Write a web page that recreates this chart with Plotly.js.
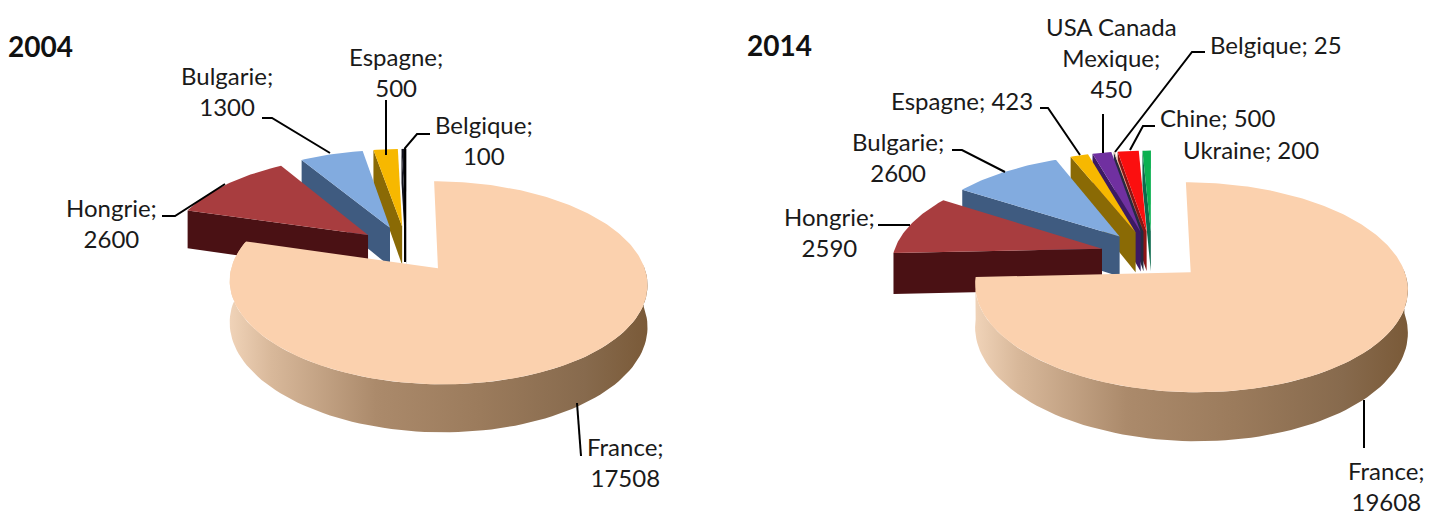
<!DOCTYPE html>
<html><head><meta charset="utf-8">
<script src="https://cdn.plot.ly/plotly-3.0.1.min.js"></script>
<style>html,body{margin:0;padding:0;background:#fff}#c{width:1443px;height:516px}</style>
</head><body><div id="c"></div>
<script>
// DATA
const categories2004 = ["France","Hongrie","Bulgarie","Espagne","Belgique"];
const values2004 = [17508,2600,1300,500,100];
const categories2014 = ["France","Hongrie","Bulgarie","Espagne","USA Canada Mexique","Belgique","Chine","Ukraine"];
const values2014 = [19608,2590,2600,423,450,25,500,200];

// STYLE per category: [top, wall]
const colours = {
  "France":["#fbd1ae",null],
  "Hongrie":["#a83d3f","#4a1114"],
  "Bulgarie":["#82abdf","#3f5b80"],
  "Espagne":["#f7b800","#8a6a05"],
  "USA Canada Mexique":["#7030a0","#3c1a63"],
  "Belgique":["#e8c4a8","#262a40"],
  "Chine":["#fb0f0f","#8c1414"],
  "Ukraine":["#0bb050","#0c6a4c"]
};
const franceWall=[[0,"#f0d3b8"],[0.1,"#d8b89a"],[0.35,"#ab8a6b"],[0.6,"#9b7b5c"],[0.85,"#876a4d"],[1,"#7a5a38"]];
// projection geometry
const geom2004={Ox:407,Oy:249,B:201,A:94,k:0.1386,e:0.25,h:40,over:{"Belgique":["#14141e","#14141e"]}};
const geom2014={Ox:1152,Oy:255,B:209,A:98,k:0.1386,e:0.25,h:41,over:{}};

function traces(cats,vals,g){
  const total=vals.reduce((a,b)=>a+b,0), out=[];
  const P=(u,v,z)=>{const w=1-g.k*v;return [g.Ox+g.B*u/w, g.Oy+g.A*v/w+(z?g.h/w:0)];};
  let t0=0; const slices=[];
  cats.forEach((c,i)=>{const d=vals[i]/total*360; slices.push({c,a:t0,b:t0+d}); t0+=d;});
  const rad=Math.PI/180;
  slices.slice().reverse().forEach(s=>{
    const mid=(s.a+s.b)/2*rad;
    const cu=g.e*Math.sin(mid), cv=-g.e*Math.cos(mid);
    const pt=(t,z)=>P(cu+Math.sin(t*rad),cv-Math.cos(t*rad),z);
    const apex=z=>P(cu,cv,z);
    const poly=(pts,extra)=>out.push(Object.assign({type:"scatter",mode:"lines",x:pts.map(p=>p[0]),y:pts.map(p=>p[1]),
      fill:"toself",line:{width:0},hoverinfo:"skip",showlegend:false,name:s.c},extra));
    const [top,wall]=g.over[s.c]||colours[s.c];
    if(wall){
      poly([apex(0),pt(s.a,0),pt(s.a,1),apex(1),apex(0)],{fillcolor:wall});
    }else{
      const f=[];for(let t=88;t<=s.b;t+=2)f.push(pt(t,0));
      for(let t=s.b;t>=88;t-=2)f.push(pt(t,1));
      f.push(f[0]);
      poly(f,{fillcolor:"#a98a6b",fillgradient:{type:"horizontal",colorscale:franceWall}});
    }
    const p=[apex(0)];
    for(let t=s.a;t<s.b;t+=1)p.push(pt(t,0));
    p.push(pt(s.b,0));p.push(apex(0));
    poly(p,{fillcolor:top});
  });
  return out;
}
// leader lines (layout, screen positions)
const leaders=[
 [[262,118],[272,118],[330,153]],
 [[386,100],[386,155]],
 [[430,134],[417,134],[405,148],[405,262]],
 [[162,216],[175,216],[225,184]],
 [[577,403],[581,456]],
 [[952,150],[962,150],[1005,172]],
 [[878,225],[910,225]],
 [[1040,108],[1048,108],[1080,155]],
 [[1103,114],[1103,153]],
 [[1205,52],[1192,52],[1115,152]],
 [[1155,126],[1143,126],[1130,150]],
 [[1364,400],[1364,448]]
];
const leaderTraces=leaders.map(l=>({type:"scatter",mode:"lines",x:l.map(p=>p[0]),y:l.map(p=>p[1]),
  line:{color:"#000",width:2},hoverinfo:"skip",showlegend:false}));

const labels=[
 ["Bulgarie;<br>1300",227,91],["Espagne;<br>500",396,72],["Belgique;<br>100",484,140],
 ["Hongrie;<br>2600",111,223],["France;<br>17508",625,462],
 ["Espagne; 423",962,100],["Bulgarie;<br>2600",898,157],["Hongrie;<br>2590",829,232],
 ["USA Canada<br>Mexique;<br>450",1111,57],["Belgique; 25",1276,44],["Chine; 500",1218,117],
 ["Ukraine; 200",1251,149],["France;<br>19608",1386,486]
];
const ann=labels.map(l=>({text:l[0],x:l[1],y:l[2],xref:"x",yref:"y",showarrow:false,xanchor:"center",yanchor:"middle",
  align:"center",font:{family:"Lato, sans-serif",size:24,color:"#1a1a1a"}}));
ann.push({text:"<b>2004</b>",x:6,y:46,xref:"x",yref:"y",showarrow:false,xanchor:"left",yanchor:"middle",font:{family:"Lato, sans-serif",size:28,color:"#111"}});
ann.push({text:"<b>2014</b>",x:745,y:45,xref:"x",yref:"y",showarrow:false,xanchor:"left",yanchor:"middle",font:{family:"Lato, sans-serif",size:28,color:"#111"}});

const data=[...traces(categories2004,values2004,geom2004),...traces(categories2014,values2014,geom2014),...leaderTraces];
Plotly.newPlot("c",data,{
  width:1443,height:516,margin:{l:0,r:0,t:0,b:0},paper_bgcolor:"#fff",plot_bgcolor:"#fff",showlegend:false,
  xaxis:{range:[0,1443],visible:false,fixedrange:true},
  yaxis:{range:[516,0],visible:false,fixedrange:true},
  annotations:ann
},{displayModeBar:false,staticPlot:true});
</script></body></html>
